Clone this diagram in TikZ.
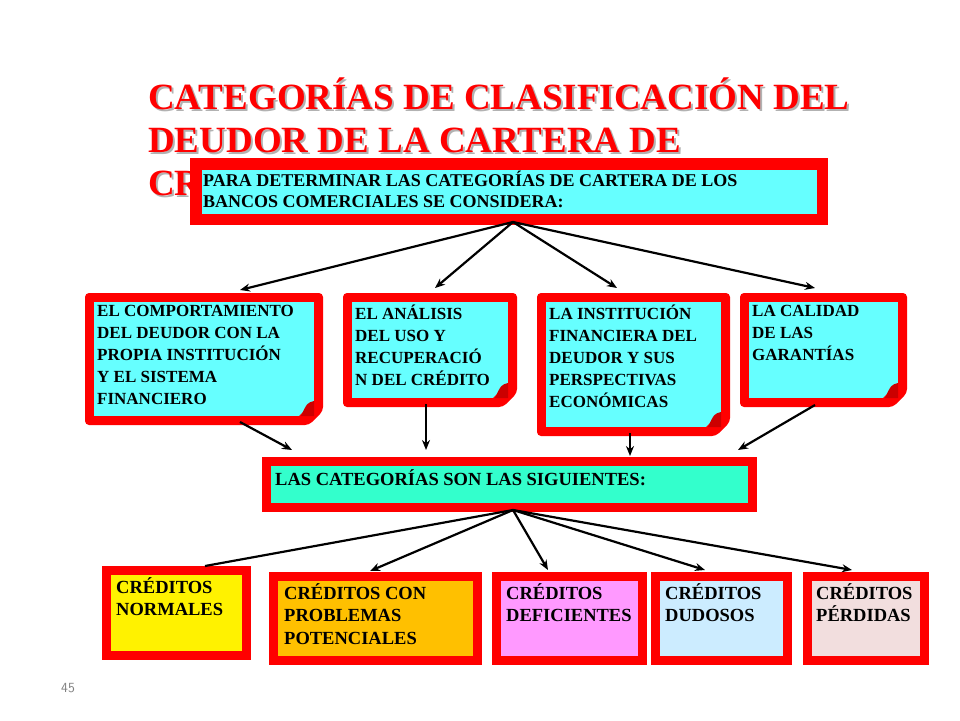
\documentclass[tikz,border=0pt]{standalone}
\usepackage{fontspec}
\setmainfont{Liberation Serif}
\usetikzlibrary{arrows.meta}
\definecolor{cy}{RGB}{102,255,255}
\definecolor{aq}{RGB}{51,255,204}
\definecolor{org}{RGB}{255,192,0}
\definecolor{pk}{RGB}{255,153,255}
\definecolor{lb}{RGB}{204,236,255}
\definecolor{lp}{RGB}{242,222,222}
\begin{document}
\begin{tikzpicture}[x=1pt,y=-1pt,
 box/.style={draw=red,line width=9pt,anchor=north west,inner sep=0pt,outer sep=0pt},
 txt/.style={anchor=north west,align=left,font=\fontsize{17}{22}\selectfont\bfseries,inner sep=0pt},
 btxt/.style={txt,font=\fontsize{18.5}{22.5}\selectfont\bfseries},
 arr/.style={line width=2.2pt,-{Stealth[length=10pt,width=8pt]}}]
\useasboundingbox (0,0) rectangle (960,720);
% title
\node[anchor=north west,align=left,text=gray!60,font=\fontsize{37}{43}\selectfont\bfseries,inner sep=0pt] (tsh) at (150,80) {CATEGORÍAS DE CLASIFICACIÓN DEL\\DEUDOR DE LA CARTERA DE\\CRÉDITOS};
\node[anchor=north west,align=left,text=red,font=\fontsize{37}{43}\selectfont\bfseries,inner sep=0pt] (title) at (148,78) {CATEGORÍAS DE CLASIFICACIÓN DEL\\DEUDOR DE LA CARTERA DE\\CRÉDITOS};
% top box
\fill[red] (190,158) rectangle (828,225);
\node[box,fill=cy,minimum width=624pt,minimum height=53pt] (top) at (197,165) {};
\node[txt,font=\fontsize{18}{21}\selectfont\bfseries] (toptxt) at (203,171) {PARA DETERMINAR LAS CATEGORÍAS DE CARTERA DE LOS\\BANCOS COMERCIALES SE CONSIDERA:};
% middle boxes with folded corner
\newcommand{\foldbox}[6]{%
 \fill[red,rounded corners=4pt] (#1,#2) -- (#3,#2) -- (#3,#4-14) -- (#3-14,#4) -- (#1,#4) -- cycle;
 \node[anchor=north west,inner sep=0pt,minimum width=#3-#1-18pt,minimum height=#4-#2-18pt,fill=cy] (#5) at (#1+9,#2+9) {};
 \fill[red] (#3-9,#4-24) -- (#3-9,#4-14) -- (#3-19,#4-9) -- (#3-24,#4-9) -- cycle;
 \fill[red!80!black] (#3-9,#4-24) .. controls (#3-16,#4-22) .. (#3-22,#4-9) -- (#3-9,#4-9) -- cycle;
 \node[txt] at (#1+12,#2+12) {#6};}
\foldbox{85}{293}{323}{425}{m1}{EL COMPORTAMIENTO\\DEL DEUDOR CON LA\\PROPIA INSTITUCIÓN\\Y EL SISTEMA\\FINANCIERO}
\foldbox{343}{293}{517}{407}{m2}{EL ANÁLISIS\\DEL USO Y\\RECUPERACIÓ\\N DEL CRÉDITO}
\foldbox{537}{293}{730}{436}{m3}{LA INSTITUCIÓN\\FINANCIERA DEL\\DEUDOR Y SUS\\PERSPECTIVAS\\ECONÓMICAS}
\foldbox{740}{293}{907}{407}{m4}{LA CALIDAD\\DE LAS\\GARANTÍAS}
% categorias
\node[box,fill=aq,minimum width=486pt,minimum height=46pt] (cat) at (266.5,461.5) {};
\node[txt,font=\fontsize{18.5}{21}\selectfont\bfseries] at (275,469) {LAS CATEGORÍAS SON LAS SIGUIENTES:};
% bottom
\node[box,fill=yellow,minimum width=140pt,minimum height=85pt] (b1) at (106.5,570.5) {};
\node[btxt] at (116,577) {CRÉDITOS\\NORMALES};
\node[box,fill=org,minimum width=204pt,minimum height=84pt] (b2) at (273.5,576.5) {};
\node[btxt] at (284,583) {CRÉDITOS CON\\PROBLEMAS\\POTENCIALES};
\node[box,fill=pk,minimum width=146pt,minimum height=84pt] (b3) at (496.5,576.5) {};
\node[btxt] at (506,583) {CRÉDITOS\\DEFICIENTES};
\node[box,fill=lb,minimum width=132pt,minimum height=84pt] (b4) at (655.5,576.5) {};
\node[btxt] at (665,583) {CRÉDITOS\\DUDOSOS};
\node[box,fill=lp,minimum width=117pt,minimum height=84pt] (b5) at (807.5,576.5) {};
\node[btxt] at (816,583) {CRÉDITOS\\PÉRDIDAS};
% connectors
\coordinate (s1) at (513,222);
\foreach \x/\y in {240/290,435/288,617/288,815/288} \draw[arr] (s1) -- (\x,\y);
\draw[arr] (240,422) -- (292,450);
\draw[arr] (426,404) -- (426,450);
\draw[arr] (630,433) -- (630,456);
\draw[arr] (815,405) -- (738,450);
\coordinate (s2) at (513,510);
\draw[line width=2.2pt] (s2) -- (205,566);
\foreach \x/\y in {370/571,548/570,705/570,852/570} \draw[arr] (s2) -- (\x,\y);
\node[text=gray,font=\fontsize{14}{16}\sffamily,inner sep=0pt] (pg) at (68,688) {45};
\end{tikzpicture}
\end{document}
